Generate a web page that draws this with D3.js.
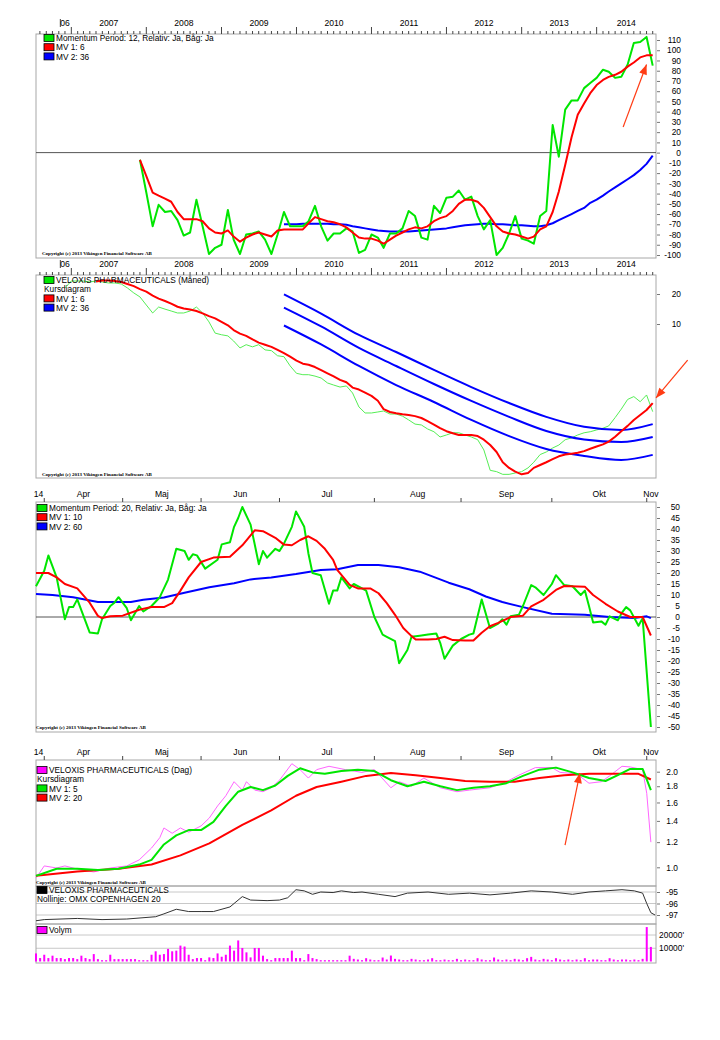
<!DOCTYPE html>
<html>
<head>
<meta charset="utf-8">
<script src="https://cdn.jsdelivr.net/npm/d3@7"></script>
<style>
body { margin: 0; background: #fff; }
text { font-family: Arial, "Liberation Sans", sans-serif; fill: #000; }
</style>
</head>
<body>
<svg id="chart" width="720" height="1040"></svg>
<script>
// ---------- monthly data (panel 1 + 2) ----------
const years = [2007, 2008, 2009, 2010, 2011, 2012, 2013, 2014]

// Momentum 12, monthly, from Dec 2007
const momStart = new Date(2007, 11, 1)
const mom12 = [-7, -39, -72, -51, -58, -57, -66, -81, -78, -46, -72, -99, -93, -90, -56, -85, -99, -80, -79, -77,
    -85, -99, -80, -58, -72, -72, -72, -67, -52, -72, -86, -79, -79, -74, -77, -98, -95, -80, -83, -93,
    -79, -79, -74, -57, -62, -83, -85, -52, -59, -44, -43, -37, -46, -43, -62, -75, -66, -100, -93, -79,
    -62, -84, -86, -89, -62, -57, 27, -4, 42, 51, 51, 63, 68, 73, 81, 79, 73, 74, 86, 107,
    108, 113, 85]
const mom12mv6 = [-7, -23, -39, -42, -45, -48, -58, -65, -65, -65, -67, -74, -78, -79, -76, -82, -87, -83, -80, -78,
    -80, -82, -76, -75, -75, -75, -75, -69, -63, -65, -67, -68, -70, -73, -78, -83, -84, -84, -86, -89,
    -85, -81, -78, -75, -73, -74, -72, -67, -64, -62, -57, -50, -46, -46, -48, -54, -63, -72, -77, -79,
    -80, -82, -84, -82, -75, -72, -58, -38, -12, 15, 37, 48, 58, 66, 71, 74, 76, 79, 84, 88,
    93, 95, 95]
// MV 36 starts Nov 2009
const mom12mv36Start = new Date(2009, 10, 1)
const mom12mv36 = [-70, -70, -70, -69.5, -69.5, -69.5, -69.5, -69.5, -70, -70, -70.5, -72, -73, -74, -75, -76, -76.5, -77, -77, -77,
    -77, -76.5, -76, -75.5, -75, -74.5, -74, -73, -72, -71, -70.5, -70, -69.5, -69.5, -70, -70, -70.5, -71, -71, -71.5,
    -72, -72, -71, -69, -66, -63, -60, -57, -54, -49, -46, -42, -38, -34, -30, -26, -22, -17, -11, -3]

// Monthly close (Måned), from Dec 2006
const priceStart = new Date(2006, 11, 1)
const priceMonth = [23.0, 27.0, 27.0, 27.0, 26.4, 27.0, 26.4, 25.8, 25.8, 25.2,
    23.0, 20.5, 18.7, 15.5, 12.9, 14.8, 14.1, 13.5, 12.9, 12.9,
    13.5, 14.8, 12.9, 10.5, 8.1, 7.8, 7.6, 6.75, 5.75, 6.2,
    5.9, 6.2, 5.5, 5.4, 4.8, 4.7, 3.8, 3.2, 3.1, 3.1,
    3.0, 2.87, 2.56, 2.44, 2.33, 2.39, 2.03, 1.47, 1.28, 1.28,
    1.31, 1.34, 1.25, 1.25, 1.19, 1.09, 0.99, 0.97, 0.885, 0.83,
    0.735, 0.77, 0.81, 0.81, 0.77, 0.735, 0.69, 0.545, 0.34, 0.33,
    0.31, 0.31, 0.32, 0.33, 0.36, 0.41, 0.49, 0.52, 0.57, 0.61,
    0.69, 0.72, 0.77, 0.81, 0.83, 0.865, 0.9, 0.95, 1.15, 1.4,
    1.75, 1.87, 1.66, 1.94, 1.32]
// MV 6 starts May 2007
const priceMv6Start = new Date(2007, 4, 1)
const priceMv6 = [26.7, 27.3, 27.3, 27.0, 26.4, 25.2, 24.0, 22.4, 21.1, 19.3,
    18.0, 17.0, 16.0, 14.9, 14.3, 14.0, 13.5, 12.8, 12.0, 11.4,
    10.5, 9.7, 8.7, 8.0, 7.6, 7.0, 6.5, 6.2, 5.9, 5.5,
    5.1, 4.7, 4.3, 4.0, 3.9, 3.7, 3.45, 3.2, 2.98, 2.75,
    2.6, 2.3, 2.2, 2.05, 1.9, 1.7, 1.4, 1.31, 1.27, 1.24,
    1.22, 1.19, 1.14, 1.06, 0.98, 0.9, 0.84, 0.8, 0.77, 0.77,
    0.77, 0.75, 0.69, 0.61, 0.52, 0.41, 0.36, 0.33, 0.31, 0.32,
    0.36, 0.385, 0.41, 0.44, 0.47, 0.49, 0.5, 0.51, 0.53, 0.56,
    0.59, 0.62, 0.66, 0.74, 0.84, 0.95, 1.09, 1.22, 1.37, 1.61]
// MV 36 band (upper / middle / lower), read every 6 months
const bandDates = [new Date(2009, 10, 1), new Date(2010, 4, 1), new Date(2010, 10, 1), new Date(2011, 4, 1),
    new Date(2011, 10, 1), new Date(2012, 4, 1), new Date(2012, 10, 1), new Date(2013, 4, 1),
    new Date(2013, 10, 1), new Date(2014, 4, 1), new Date(2014, 9, 1)]
const bandUpper = [19.8, 12.7, 7.76, 5.24, 3.46, 2.33, 1.61, 1.17, 0.93, 0.865, 0.99]
const bandMiddle = [14.6, 9.44, 5.75, 3.79, 2.50, 1.69, 1.17, 0.845, 0.694, 0.655, 0.735]
const bandLower = [9.66, 6.23, 3.79, 2.44, 1.65, 1.09, 0.75, 0.557, 0.474, 0.432, 0.486]

// ---------- daily data (panels 3-6), x = trading day index from 28 Mar 2014 ----------
const monthNames = ['Apr', 'Maj', 'Jun', 'Jul', 'Aug', 'Sep', 'Okt', 'Nov']
const monthStartDays = [2, 21, 40, 59, 82, 103, 125, 148]
const lastDay = 150

const mom20 = [[0,14],[2,21],[3,28],[5,18],[7,-1],[8,4.5],[9,4.5],[10,8],[13,-7],[15,-7.5],[16,-1],[18,5],[19,6.5],[20,9],
    [22,4],[23,-1.5],[25,5],[26,2.5],[28,5],[30,9],[32,17],[34,31],[36,30],[37,26],[38,28.5],[39,28],[41,22],[44,26],
    [45,33],[47,34],[48,41],[49,45],[50,50],[52,42],[54,24],[55,30],[56,27],[58,31],[59,30],[60,33],[61,37],[62,41],
    [63,48],[65,41],[66,29],[67,20],[69,19],[71,6],[72,12],[73,12],[74,18],[76,13],[77,15],[79,13],[80,12],[82,0],
    [84,-8],[85,-9],[87,-11],[88,-21],[90,-15],[91,-9],[93,-8.5],[95,-8],[97,-7.5],[98,-12],[99,-19],[101,-13],
    [103,-10],[105,-8],[106,-7.5],[108,8],[110,-5],[112,-3],[113,-1],[114,-3.5],[115,0.3],[117,1],[118,5],[120,14.5],
    [121,13.5],[123,10],[125,15],[126,19],[128,14.5],[130,14],[132,10],[133,12],[134,5],[135,-2.5],[137,-2],[138,-3.5],
    [139,0.3],[141,-1.5],[142,2],[143,4.5],[144,3],[146,-4],[147,-0.5],[149,-50]]
const mom20mv10 = [[0,20],[3,20],[5,18],[7,15],[10,13],[13,6.5],[15,0.5],[16,-0.5],[18,0.3],[21,0.6],[25,3.3],[28,4.5],
    [31,4.5],[33,6.3],[35,12],[37,18],[40,25],[43,27],[47,27.4],[50,32.6],[53,39.4],[55,39],[58,36],[60,33],[62,32.6],
    [64,35],[66,36.7],[68,34.6],[70,31],[72,26],[73,21.4],[76,14.6],[78,13],[81,13],[83,10.8],[85,6.3],[87,1],[89,-5],
    [91,-8.7],[92,-10.2],[95,-10.2],[97,-10],[99,-9],[101,-10.5],[104,-10.7],[106,-10.7],[108,-7.2],[110,-4.2],
    [112,-2.7],[115,0],[118,0.6],[120,4.8],[123,7.8],[126,12.3],[128,14.1],[133,13.8],[135,10],[138,6],[141,2.5],
    [144,0],[147,0],[149,-8.4]]
const mom20mv60 = [[0,10.4],[4,10],[9,9],[15,6.8],[23,6.8],[26,7.8],[31,8.9],[36,11],[42,13.5],[48,15.3],[52,17.1],
    [57,18],[63,19.5],[69,21.4],[73,21.7],[78,23.6],[83,23.6],[88,22.6],[93,20.6],[100,15.6],[105,12.6],[109,9.3],
    [113,6.8],[118,4.5],[125,1.5],[133,1],[139,0],[145,-0.5],[148,0.3],[149,-0.5]]

const priceDay = [[0,0.925],[2,1.01],[5,0.995],[7,1.01],[11,0.98],[14,0.967],[18,0.995],[22,1.01],[25,1.055],[28,1.15],
    [30,1.24],[31,1.33],[33,1.28],[35,1.33],[37,1.29],[40,1.35],[42,1.43],[44,1.56],[46,1.68],[48,1.86],[50,1.75],
    [51,1.86],[53,1.75],[55,1.73],[57,1.78],[59,1.88],[62,2.12],[64,2.03],[66,1.91],[68,2.03],[71,2.08],[75,2.03],
    [79,1.99],[82,2.03],[86,1.78],[88,1.86],[91,1.8],[94,1.91],[98,1.78],[102,1.73],[105,1.75],[110,1.78],[114,1.86],
    [117,1.95],[121,2.06],[125,2.06],[127,1.99],[131,1.97],[134,1.84],[137,1.86],[139,1.94],[142,2.08],[144,2.07],
    [147,2.03],[148,1.71],[149,1.2]]
const priceMv5 = [[0,0.94],[5,0.99],[10,0.99],[15,0.98],[20,0.99],[25,1.02],[28,1.055],[31,1.18],[34,1.26],[37,1.31],
    [40,1.31],[43,1.39],[46,1.56],[49,1.73],[52,1.79],[55,1.75],[58,1.81],[61,1.94],[64,2.05],[67,1.99],[70,1.97],
    [74,2.01],[78,2.03],[82,2.01],[86,1.88],[90,1.8],[94,1.86],[98,1.8],[102,1.75],[106,1.78],[110,1.8],[114,1.84],
    [118,1.94],[122,2.03],[126,2.06],[130,1.99],[134,1.91],[138,1.87],[141,1.95],[144,2.04],[147,2.04],[149,1.75]]
const priceMv20 = [[0,0.94],[10,0.97],[20,0.99],[28,1.02],[35,1.09],[42,1.19],[50,1.36],[57,1.51],[63,1.68],[68,1.79],
    [74,1.86],[80,1.94],[86,1.98],[92,1.95],[98,1.91],[104,1.87],[110,1.86],[116,1.86],[122,1.91],[128,1.95],
    [134,1.97],[140,1.97],[146,1.97],[149,1.89]]

// relative to OMX Copenhagen 20
const relative = [[0,-97.5],[2,-97.4],[10,-97.3],[16,-97.4],[22,-97.35],[29,-97.15],[31,-96.9],[34,-96.5],[37,-96.7],
    [40,-96.7],[43,-96.7],[47,-96.3],[50,-95.4],[52,-95.7],[56,-95.75],[59,-95.7],[61,-95.5],[63,-94.8],[65,-94.9],
    [67,-95.2],[69,-95],[72,-95.05],[74,-94.9],[77,-95.05],[79,-95],[83,-95.2],[87,-95.4],[90,-95.1],[95,-95],
    [100,-95.2],[105,-95.1],[110,-95.25],[115,-95.1],[120,-94.9],[125,-95],[130,-95.2],[134,-95],[138,-94.9],
    [142,-94.8],[145,-94.9],[147,-95.1],[148,-96],[149,-96.8],[150,-97]]

// daily volume, day 0..149
const volume = [6100, 2600, 5100, 2600, 4400, 2600, 2600, 1800, 2600, 2600,
    1800, 4400, 2600, 1800, 5600, 1800, 1000, 1000, 5100, 1800,
    1800, 1800, 1800, 1800, 1800, 1000, 1000, 1000, 5100, 7700,
    5100, 5600, 9500, 7700, 8200, 12000, 11300, 5100, 1800, 2600,
    2600, 1000, 3100, 2600, 6100, 3600, 5100, 12000, 8200, 15900,
    10200, 6900, 3100, 10200, 10200, 4400, 1800, 1000, 2600, 2600,
    2600, 2600, 8200, 2600, 2600, 1000, 5600, 2600, 1800, 1000,
    1000, 1000, 1000, 1000, 1000, 1000, 4400, 2000, 1500, 1000,
    2500, 1500, 1000, 1000, 3000, 1500, 4500, 2000, 1500, 1000,
    1000, 2000, 1500, 1000, 1000, 1500, 2500, 1000, 1000, 1500,
    1000, 1000, 2000, 1000, 1500, 1000, 1000, 2500, 1500, 1000,
    1000, 3000, 1500, 1000, 1500, 1000, 2000, 1500, 1000, 2500,
    3500, 1500, 1000, 2000, 1500, 1000, 2500, 1500, 1000, 1500,
    1000, 1500, 1000, 2500, 1000, 1500, 1500, 1000, 1000, 2500,
    1500, 1000, 1500, 1500, 1000, 1500, 1000, 2000, 26000, 11000]

// ---------- drawing ----------
const svg = d3.select('#chart')
svg.append('rect').attr('width', 720).attr('height', 1040).attr('fill', '#fff')

const L = 36, R = 656
const GREEN = '#00e600', RED = '#ff0000', BLUE = '#0000ff', MAGENTA = '#ff00ff', ARROW = '#ff3c14'

const xMonth = d3.scaleTime()
    .domain([new Date(2006, 6, 13), new Date(2014, 9, 17)])
    .range([L, R])
const xDay = d3.scaleLinear().domain([0, lastDay]).range([L, R - 1])

function frame(top, bottom) {
    svg.append('rect')
        .attr('x', L).attr('y', top)
        .attr('width', R - L).attr('height', bottom - top)
        .attr('fill', 'none').attr('stroke', '#a8a8a8')
}

function legend(x, y, rows) {
    rows.forEach((r, i) => {
        const yy = y + i * 9.2
        if (r.color) {
            svg.append('rect')
                .attr('x', x).attr('y', yy - 3.5).attr('width', 10).attr('height', 7)
                .attr('fill', r.color).attr('stroke', '#000').attr('stroke-width', 0.8)
        }
        svg.append('text')
            .attr('x', r.color ? x + 12 : x).attr('y', yy + 3.2)
            .text(r.label)
            .style('font-size', '8.3px')
    })
}

function copyright(x, y) {
    svg.append('text')
        .attr('x', x).attr('y', y)
        .text('Copyright (c) 2013 Vikingen Financial Software AB')
        .style('font-family', '"Liberation Serif", "DejaVu Serif", serif')
        .style('font-size', '5px')
        .style('font-weight', 'bold')
}

function rightAxis(scale, ticks, fmt, xText, tick = 4) {
    const g = svg.append('g')
        .attr('transform', `translate(${R},0)`)
        .call(d3.axisRight(scale).tickValues(ticks).tickFormat(fmt).tickSize(tick))
    g.select('.domain').remove()
    g.selectAll('.tick line').attr('stroke', '#777').attr('x1', 1)
    if (!tick) g.selectAll('.tick line').remove()
    g.selectAll('.tick text')
        .attr('x', xText - R).attr('text-anchor', 'end')
        .style('font-family', 'Arial, "Liberation Sans", sans-serif')
        .style('font-size', '8.4px').attr('fill', '#000')
}

function yearAxis(top) {
    const months = d3.timeMonth.range(new Date(2006, 7, 1), xMonth.domain()[1])
    svg.append('g').selectAll('line')
        .data(months)
        .join('line')
        .attr('x1', d => xMonth(d)).attr('x2', d => xMonth(d))
        .attr('y1', d => d.getMonth() === 0 ? top - 7 : top - 3)
        .attr('y2', top)
        .attr('stroke', '#444')
    svg.append('g').selectAll('text')
        .data(years)
        .join('text')
        .attr('x', y => (xMonth(new Date(y, 0, 1)) + Math.min(R, xMonth(new Date(y + 1, 0, 1)))) / 2)
        .attr('y', top - 8)
        .attr('text-anchor', 'middle')
        .text(y => y)
        .style('font-size', '8.6px')
    const x07 = xMonth(new Date(2007, 0, 1))
    svg.append('line').attr('x1', x07 - 11).attr('x2', x07 - 11).attr('y1', top - 15).attr('y2', top - 7).attr('stroke', '#444')
    svg.append('text').attr('x', x07 - 1.5).attr('y', top - 8).attr('text-anchor', 'end')
        .text('06').style('font-size', '8.6px')
}

function dayAxis(top) {
    svg.append('g').selectAll('line')
        .data(monthStartDays)
        .join('line')
        .attr('x1', d => xDay(d)).attr('x2', d => xDay(d))
        .attr('y1', top - 4).attr('y2', top)
        .attr('stroke', '#444')
    svg.append('g').selectAll('text')
        .data(monthNames)
        .join('text')
        .attr('x', (m, i) => (xDay(monthStartDays[i]) + xDay(monthStartDays[i + 1] ?? lastDay)) / 2)
        .attr('y', top - 5)
        .attr('text-anchor', 'middle')
        .text(m => m)
        .style('font-size', '8.6px')
    svg.append('text').attr('x', xDay(monthStartDays[0]) - 1).attr('y', top - 5)
        .attr('text-anchor', 'end').text('14').style('font-size', '8.6px')
}

function path(data, line, color, width) {
    svg.append('path')
        .datum(data)
        .attr('d', line)
        .attr('fill', 'none')
        .attr('stroke', color)
        .attr('stroke-width', width)
        .attr('stroke-linejoin', 'round')
}

function monthLine(start, y) {
    return d3.line().x((d, i) => xMonth(d3.timeMonth.offset(start, i))).y(d => y(d))
}
function dayLine(y) {
    return d3.line().x(d => xDay(d[0])).y(d => y(d[1]))
}

function arrow(x1, y1, x2, y2) {
    svg.append('line').attr('x1', x1).attr('y1', y1).attr('x2', x2).attr('y2', y2)
        .attr('stroke', ARROW).attr('stroke-width', 1.2)
    const a = Math.atan2(y2 - y1, x2 - x1), len = 10, w = 4
    const bx = x2 - len * Math.cos(a), by = y2 - len * Math.sin(a)
    svg.append('polygon')
        .attr('points', [[x2, y2], [bx - w * Math.sin(a), by + w * Math.cos(a)], [bx + w * Math.sin(a), by - w * Math.cos(a)]].join(' '))
        .attr('fill', ARROW)
}

// ---------- Panel 1: momentum 12 (monthly) ----------
const y1 = d3.scaleLinear().domain([-100, 110]).range([255, 40])
frame(34, 258)
yearAxis(34)
svg.append('line').attr('x1', L).attr('x2', R).attr('y1', y1(0)).attr('y2', y1(0)).attr('stroke', '#555')
path(mom12mv36, monthLine(mom12mv36Start, y1), BLUE, 2)
path(mom12, monthLine(momStart, y1), GREEN, 2)
path(mom12mv6, monthLine(momStart, y1), RED, 2)
rightAxis(y1, d3.range(-100, 111, 10), d => d, 681)
legend(44, 38, [
    { color: GREEN, label: 'Momentum Period: 12, Relativ: Ja, Båg: Ja' },
    { color: RED, label: 'MV 1: 6' },
    { color: BLUE, label: 'MV 2: 36' }])
copyright(42, 255)
arrow(xMonth(new Date(2014, 4, 10)), y1(25), xMonth(new Date(2014, 8, 1)), y1(86))

// ---------- Panel 2: monthly price (log) ----------
const y2 = d3.scaleLog().domain([10, 20]).range([324, 294])
frame(275, 478)
yearAxis(275)
path(priceMonth, monthLine(priceStart, y2), '#55ee55', 1)
const bandLine = d3.line().x((d, i) => xMonth(bandDates[i])).y(d => y2(d)).curve(d3.curveMonotoneX)
path(bandUpper, bandLine, BLUE, 2)
path(bandMiddle, bandLine, BLUE, 2)
path(bandLower, bandLine, BLUE, 2)
path(priceMv6, monthLine(priceMv6Start, y2), RED, 2)
rightAxis(y2, [20, 10], d => d, 681)
legend(44, 280, [
    { color: GREEN, label: 'VELOXIS PHARMACEUTICALS (Måned)' },
    { label: 'Kursdiagram' },
    { color: RED, label: 'MV 1: 6' },
    { color: BLUE, label: 'MV 2: 36' }])
copyright(42, 476)
arrow(xMonth(new Date(2015, 2, 20)), y2(4.35), xMonth(new Date(2014, 9, 17)), y2(1.81))

// ---------- Panel 3: momentum 20 (daily) ----------
const y3 = d3.scaleLinear().domain([-50, 50]).range([727, 507])
frame(502, 732)
dayAxis(502)
svg.append('line').attr('x1', L).attr('x2', R).attr('y1', y3(0)).attr('y2', y3(0)).attr('stroke', '#555')
path(mom20mv60, dayLine(y3), BLUE, 2)
path(mom20, dayLine(y3), GREEN, 2)
path(mom20mv10, dayLine(y3), RED, 2)
rightAxis(y3, d3.range(-50, 51, 5), d => d, 680)
legend(37, 508, [
    { color: GREEN, label: 'Momentum Period: 20, Relativ: Ja, Båg: Ja' },
    { color: RED, label: 'MV 1: 10' },
    { color: BLUE, label: 'MV 2: 60' }])
copyright(36, 729)

// ---------- Panel 4: daily price (log) ----------
const y4 = d3.scaleLog().domain([1, 2]).range([867.3, 771.7])
frame(760, 886)
dayAxis(760)
path(priceDay, dayLine(y4), '#ff66ff', 1)
path(priceMv20, dayLine(y4), RED, 2)
path(priceMv5, dayLine(y4), GREEN, 2)
rightAxis(y4, [1.0, 1.2, 1.4, 1.6, 1.8, 2.0], d3.format('.1f'), 678)
legend(37, 770, [
    { color: MAGENTA, label: 'VELOXIS PHARMACEUTICALS (Dag)' },
    { label: 'Kursdiagram' },
    { color: GREEN, label: 'MV 1: 5' },
    { color: RED, label: 'MV 2: 20' }])
copyright(36, 884)
arrow(xDay(128.2), y4(1.175), xDay(131.8), y4(1.98))

// ---------- Panel 5: relative line ----------
const y5 = d3.scaleLinear().domain([-97, -95]).range([915, 892])
svg.append('g').selectAll('line')
    .data([-95, -96, -97])
    .join('line')
    .attr('x1', L).attr('x2', R).attr('y1', d => y5(d)).attr('y2', d => y5(d))
    .attr('stroke', '#c8c8c8')
frame(886, 924)
path(relative, dayLine(y5), '#333', 1)
rightAxis(y5, [-95, -96, -97], d => d, 678)
legend(37, 890, [
    { color: '#000', label: 'VELOXIS PHARMACEUTICALS' },
    { label: 'Nollinje: OMX COPENHAGEN 20' }])

// ---------- Panel 6: volume ----------
const y6 = d3.scaleLinear().domain([0, 20000]).range([961.5, 935])
svg.append('g').selectAll('line')
    .data([10000, 20000])
    .join('line')
    .attr('x1', L).attr('x2', R).attr('y1', d => y6(d)).attr('y2', d => y6(d))
    .attr('stroke', '#c8c8c8')
frame(924, 963)
svg.append('g').selectAll('rect')
    .data(volume)
    .join('rect')
    .attr('x', (d, i) => xDay(i) - 1)
    .attr('y', d => y6(d))
    .attr('width', 2)
    .attr('height', d => y6(0) - y6(d))
    .attr('fill', MAGENTA)
rightAxis(y6, [20000, 10000], d => d + "'", 684, 0)
legend(37, 930, [{ color: MAGENTA, label: 'Volym' }])
</script>
</body>
</html>
